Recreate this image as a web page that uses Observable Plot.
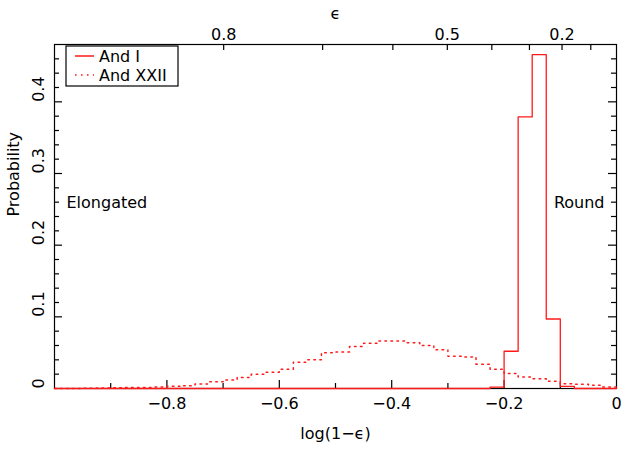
<!DOCTYPE html>
<html><head><meta charset="utf-8">
<script src="https://cdn.jsdelivr.net/npm/d3@7"></script>
<script src="https://cdn.jsdelivr.net/npm/@observablehq/plot@0.6"></script>
<style>body{margin:0;background:#fff} svg{font-family:"DejaVu Sans",sans-serif}</style>
</head><body><div id="chart"></div>
<script>
// Bin left edges in log(1-eps), bin width 0.025
const binEdges = [-1,-0.975,-0.95,-0.925,-0.9,-0.875,-0.85,-0.825,-0.8,-0.775,
  -0.75,-0.725,-0.7,-0.675,-0.65,-0.625,-0.6,-0.575,-0.55,-0.525,
  -0.5,-0.475,-0.45,-0.425,-0.4,-0.375,-0.35,-0.325,-0.3,-0.275,
  -0.25,-0.225,-0.2,-0.175,-0.15,-0.125,-0.1,-0.075,-0.05,-0.025];
const rightEdge = 0;
const andI = [0,0,0,0,0,0,0,0,0,0,
  0,0,0,0,0,0,0,0,0,0,
  0,0,0,0,0,0,0,0,0,0,
  0,0.002,0.052,0.379,0.466,0.097,0.003,0,0,0];
const andXXII = [0,0,0.0005,0.0007,0.001,0.0013,0.0015,0.002,0.003,0.004,
  0.0063,0.0094,0.012,0.0154,0.020,0.0228,0.027,0.0368,0.040,0.050,
  0.051,0.0587,0.063,0.0664,0.0664,0.064,0.060,0.054,0.045,0.044,
  0.034,0.027,0.021,0.016,0.0136,0.010,0.0066,0.006,0.0045,0.002];
const seriesNames = ["And I", "And XXII"];
const xMajor = [-0.8,-0.6,-0.4,-0.2];
const xMinor = [-0.9,-0.7,-0.5,-0.3,-0.1];
const xLabels = [-0.8,-0.6,-0.4,-0.2,0];
const yMajor = [0.1,0.2,0.3,0.4];
const yMinor = [0.02,0.04,0.06,0.08,0.12,0.14,0.16,0.18,0.22,0.24,0.26,0.28,0.32,0.34,0.36,0.38,0.42,0.44,0.46];
const yLabels = [0,0.1,0.2,0.3,0.4];
const epsTicks = [0.8,0.7,0.6,0.5,0.4,0.3,0.2,0.1];
const epsLabels = [0.8,0.5,0.2];

const W = 621, H = 455, mL = 54, mR = 5, mT = 44, mB = 67;
const fw = W - mL - mR, fh = H - mT - mB;
const red = "#ff1a1a";
const dots = "1.6,4.4";

function steps(vals) {
  const pts = binEdges.map((x, i) => ({x, y: vals[i]}));
  pts.push({x: rightEdge, y: vals[vals.length - 1]});
  return pts;
}
const fmt = d => d === 0 ? "0" : String(d).replace("-", "\u2212");
const fsz = 16;

const chart = Plot.plot({
  width: W, height: H,
  marginLeft: mL, marginRight: mR, marginTop: mT, marginBottom: mB,
  style: {fontFamily: "'DejaVu Sans', sans-serif", fontSize: fsz + "px", color: "black", background: "white"},
  x: {domain: [-1, 0], axis: null},
  y: {domain: [0, 0.48], axis: null},
  marks: [
    Plot.frame({stroke: "black", strokeWidth: 1.2}),
    // bottom ticks
    Plot.ruleX(xMajor, {x: d => d, insetTop: fh - 8, stroke: "black", strokeWidth: 1.2}),
    Plot.ruleX(xMinor, {x: d => d, insetTop: fh - 5, stroke: "black", strokeWidth: 1.2}),
    // top eps ticks
    Plot.ruleX(epsTicks, {x: e => Math.log10(1 - e), insetBottom: fh - 6, stroke: "black", strokeWidth: 1.2}),
    // left / right y ticks
    Plot.ruleY(yMajor, {y: d => d, insetRight: fw - 8, stroke: "black", strokeWidth: 1.2}),
    Plot.ruleY(yMinor, {y: d => d, insetRight: fw - 5, stroke: "black", strokeWidth: 1.2}),
    Plot.ruleY(yMajor, {y: d => d, insetLeft: fw - 8, stroke: "black", strokeWidth: 1.2}),
    Plot.ruleY(yMinor, {y: d => d, insetLeft: fw - 5, stroke: "black", strokeWidth: 1.2}),
    // histograms
    Plot.line(steps(andXXII), {x: "x", y: "y", curve: "step-after", stroke: red, strokeWidth: 1.5, strokeDasharray: dots}),
    Plot.line(steps(andI), {x: "x", y: "y", curve: "step-after", stroke: red, strokeWidth: 1.3}),
    // tick labels
    Plot.text(xLabels, {x: d => d, frameAnchor: "bottom", dy: 20, text: fmt, fontSize: fsz}),
    Plot.text(epsLabels, {x: e => Math.log10(1 - e), frameAnchor: "top", dy: -16, text: d => String(d), fontSize: fsz}),
    Plot.text(yLabels, {y: d => d, frameAnchor: "left", dx: -16, rotate: -90, text: fmt, fontSize: fsz}),
    // axis titles
    Plot.text(["log(1\u2212\u03f5)"], {frameAnchor: "bottom", dy: 50, fontSize: fsz}),
    Plot.text(["\u03f5"], {frameAnchor: "top", dy: -37, fontSize: fsz}),
    Plot.text(["Probability"], {frameAnchor: "left", dx: -41, rotate: -90, fontSize: fsz}),
    // annotations
    Plot.text(["Elongated"], {frameAnchor: "left", y: () => 0.259, dx: 12, textAnchor: "start", fontSize: fsz}),
    Plot.text(["Round"], {frameAnchor: "right", y: () => 0.259, dx: -12, textAnchor: "end", fontSize: fsz})
  ]
});

// legend
const svg = d3.select(chart);
const lg = svg.append("g").attr("font-size", fsz).attr("font-family", "'DejaVu Sans', sans-serif").attr("text-anchor", "start");
const lx = mL + 12, ly = mT + 2, lw = 112, rowH = 19;
lg.append("rect").attr("x", lx).attr("y", ly).attr("width", lw).attr("height", rowH * seriesNames.length + 2)
  .attr("fill", "white").attr("stroke", "black").attr("stroke-width", 1.2);
seriesNames.forEach((name, i) => {
  const cy = ly + 10 + i * rowH;
  lg.append("line").attr("x1", lx + 9).attr("x2", lx + 28).attr("y1", cy).attr("y2", cy)
    .attr("stroke", red).attr("stroke-width", 1.5)
    .attr("stroke-dasharray", i === 0 ? null : dots);
  lg.append("text").attr("x", lx + 33).attr("y", cy).attr("dy", "0.35em").text(name);
});
document.getElementById("chart").appendChild(chart);
</script></body></html>
